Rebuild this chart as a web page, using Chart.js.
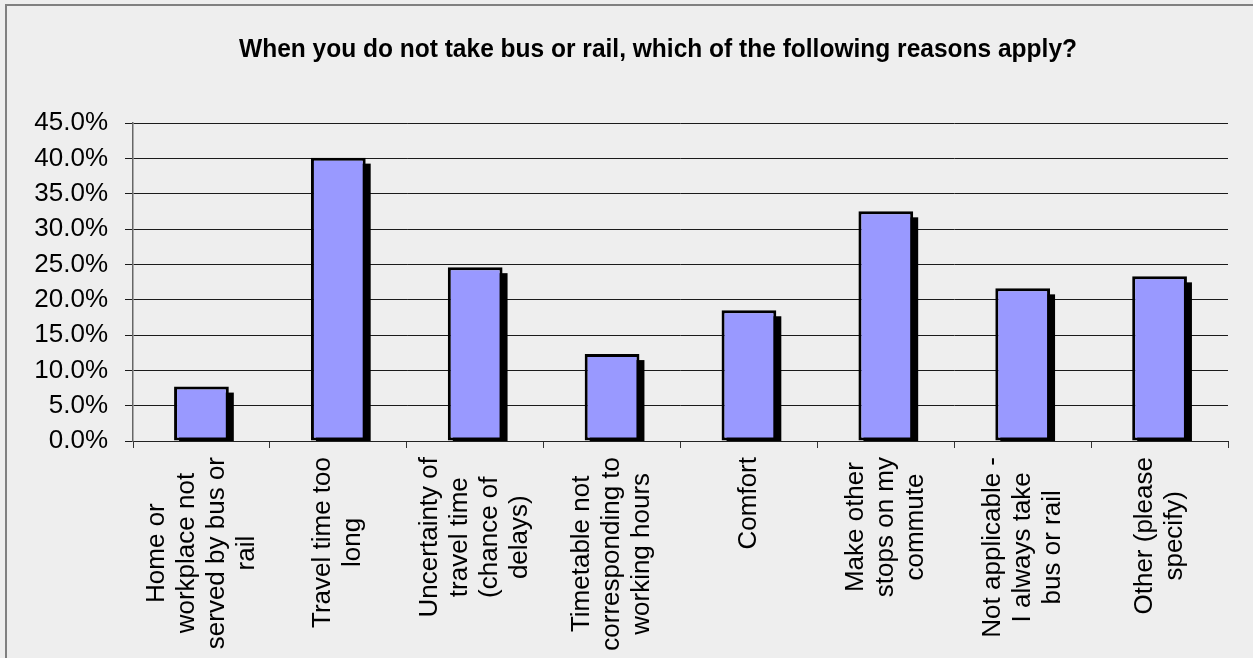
<!DOCTYPE html>
<html>
<head>
<meta charset="utf-8">
<script src="https://cdn.jsdelivr.net/npm/chart.js@4/dist/chart.umd.min.js"></script>
<style>
  html, body { margin: 0; padding: 0; background: #eeeeee; }
  #wrap { width: 1253px; height: 658px; }
</style>
</head>
<body>
<div id="wrap"><canvas id="chart" width="1253" height="658"></canvas></div>
<script>
const TITLE = 'When you do not take bus or rail, which of the following reasons apply?';

const categories = [
    ['Home or', 'workplace not', 'served by bus or', 'rail'],
    ['Travel time too', 'long'],
    ['Uncertainty of', 'travel time', '(chance of', 'delays)'],
    ['Timetable not', 'corresponding to', 'working hours'],
    ['Comfort'],
    ['Make other', 'stops on my', 'commute'],
    ['Not applicable -', 'I always take', 'bus or rail'],
    ['Other (please', 'specify)']
];

const values = [7.7, 40.1, 24.6, 12.3, 18.5, 32.5, 21.6, 23.3];

const yTicks = [0, 5, 10, 15, 20, 25, 30, 35, 40, 45];

const FONT = '"Liberation Sans", Arial, sans-serif';

// background + frame lines
const framePlugin = {
    id: 'frame',
    beforeDraw(chart) {
        const ctx = chart.ctx;
        ctx.save();
        ctx.fillStyle = '#eeeeee';
        ctx.fillRect(0, 0, chart.width, chart.height);
        ctx.strokeStyle = '#808080';
        ctx.lineWidth = 2;
        ctx.beginPath();
        ctx.moveTo(6, chart.height);
        ctx.lineTo(6, 5);
        ctx.lineTo(chart.width, 5);
        ctx.stroke();
        ctx.restore();
    }
};

// title, squeezed a bit like the original
const titlePlugin = {
    id: 'titleText',
    afterDraw(chart) {
        const ctx = chart.ctx;
        ctx.save();
        ctx.font = 'bold 25px ' + FONT;
        ctx.fillStyle = '#000';
        ctx.textAlign = 'center';
        ctx.textBaseline = 'alphabetic';
        const w = ctx.measureText(TITLE).width;
        const sx = 838 / w;
        ctx.translate(658, 57);
        ctx.scale(sx, 1);
        ctx.fillText(TITLE, 0, 0);
        ctx.restore();
    }
};

// rotated category labels, lines centred within each block
const labelPlugin = {
    id: 'catLabels',
    afterDraw(chart) {
        const ctx = chart.ctx;
        const xScale = chart.scales.x;
        const top = xScale.top + 16;
        const lineH = 30;
        ctx.save();
        ctx.font = '26px ' + FONT;
        ctx.fillStyle = '#000';
        ctx.textAlign = 'center';
        ctx.textBaseline = 'middle';
        categories.forEach((lines, i) => {
            const x = xScale.getPixelForValue(i);
            const maxW = Math.max(...lines.map(l => ctx.measureText(l).width));
            ctx.save();
            ctx.translate(x, top + maxW / 2);
            ctx.rotate(-Math.PI / 2);
            lines.forEach((l, j) => {
                ctx.fillText(l, 0, (j - (lines.length - 1) / 2) * lineH);
            });
            ctx.restore();
        });
        ctx.restore();
    }
};

// hard drop shadow behind the bars (bar element clips its own drawing)
const shadowPlugin = {
    id: 'barShadow',
    beforeDatasetDraw(chart, args) {
        const ctx = chart.ctx;
        const area = chart.chartArea;
        const off = 5;
        ctx.save();
        ctx.beginPath();
        ctx.rect(area.left, area.top, area.right - area.left, area.bottom - area.top);
        ctx.clip();
        ctx.fillStyle = '#000';
        args.meta.data.forEach(bar => {
            const p = bar.getProps(['x', 'y', 'base', 'width'], true);
            ctx.fillRect(p.x - p.width / 2 + off, p.y + off + 1, p.width, p.base - p.y);
        });
        ctx.restore();
    }
};

new Chart(document.getElementById('chart'), {
    type: 'bar',
    data: {
        labels: categories.map(c => c.join(' ')),
        datasets: [{
            data: values,
            backgroundColor: '#9999ff',
            borderColor: '#000000',
            borderWidth: 3,
            borderSkipped: false,
            barPercentage: 0.4,
            categoryPercentage: 1.0
        }]
    },
    options: {
        responsive: false,
        animation: false,
        layout: { padding: { top: 123, right: 25, left: 0, bottom: 0 } },
        plugins: {
            legend: { display: false },
            tooltip: { enabled: false },
            title: { display: false }
        },
        scales: {
            x: {
                grid: {
                    offset: true,
                    drawOnChartArea: false,
                    drawTicks: true,
                    tickLength: 7,
                    color: '#333333'
                },
                border: { display: true, color: '#222222', width: 1 },
                ticks: { display: false },
                afterFit(scale) { scale.height = 217; }
            },
            y: {
                min: 0,
                max: 45,
                afterBuildTicks(scale) {
                    scale.ticks = yTicks.map(v => ({ value: v }));
                },
                grid: {
                    color: '#1a1a1a',
                    lineWidth: 1,
                    tickLength: 8
                },
                border: { display: true, color: '#666666', width: 1.5 },
                ticks: {
                    padding: 17,
                    color: '#000',
                    font: { family: FONT, size: 26 },
                    callback: v => v.toFixed(1) + '%'
                },
                afterFit(scale) { scale.width = 133; }
            }
        }
    },
    plugins: [framePlugin, shadowPlugin, titlePlugin, labelPlugin]
});
</script>
</body>
</html>
